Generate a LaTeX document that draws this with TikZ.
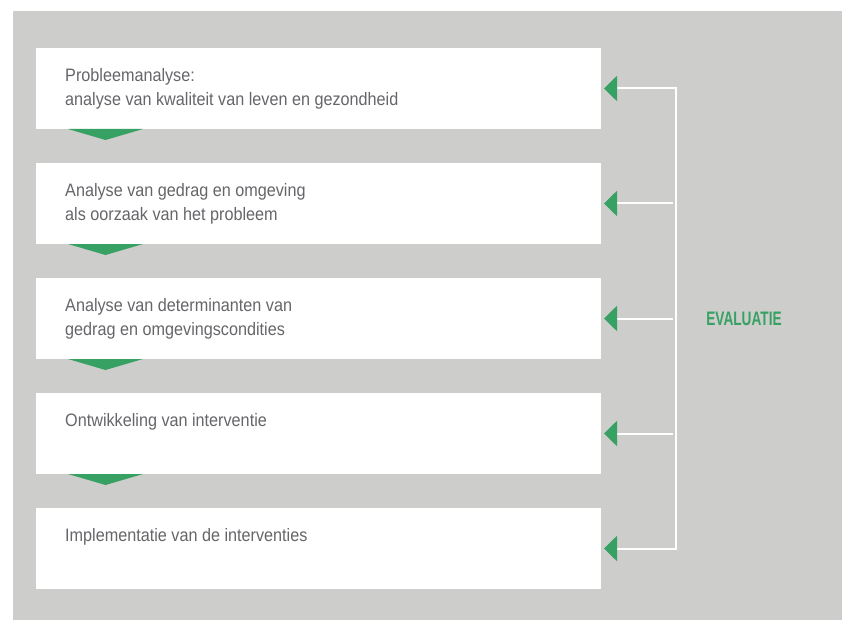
\documentclass[tikz,border=0pt]{standalone}
\usepackage{fontspec}
\setmainfont[FakeStretch=0.9]{Liberation Sans}
\newfontfamily\evalfont[FakeStretch=0.7]{Liberation Sans}
\usetikzlibrary{arrows.meta, positioning}
\definecolor{panelgray}{HTML}{CDCDCB}
\definecolor{stepgreen}{HTML}{37A063}
\definecolor{textgray}{HTML}{66666A}

\begin{document}
\begin{tikzpicture}[x=1pt, y=-1pt, >={Triangle[length=13pt, width=25pt, color=stepgreen]},
  phase/.style={fill=white, minimum width=565pt, minimum height=81pt, inner sep=0pt, outer sep=0pt},
  phasetext/.style={anchor=north west, align=left, inner sep=0pt, color=textgray,
    font=\fontsize{18}{24}\selectfont},
  feedback/.style={draw=white, line width=2pt, shorten >=3pt, shorten <=3pt}]
\useasboundingbox (0,0) rectangle (842,620);
\fill[panelgray] (13,11) rectangle (842,620);
\node[phase] (b1) at (318.5,88.5) {};
\node[phase, below=34pt of b1] (b2) {};
\node[phase, below=34pt of b2] (b3) {};
\node[phase, below=34pt of b3] (b4) {};
\node[phase, below=34pt of b4] (b5) {};
\fill[stepgreen] ([xshift=32pt]b1.south west) -- ++(75,0) -- ++(-37.5,11) -- cycle;
\fill[stepgreen] ([xshift=32pt]b2.south west) -- ++(75,0) -- ++(-37.5,11) -- cycle;
\fill[stepgreen] ([xshift=32pt]b3.south west) -- ++(75,0) -- ++(-37.5,11) -- cycle;
\fill[stepgreen] ([xshift=32pt]b4.south west) -- ++(75,0) -- ++(-37.5,11) -- cycle;
\node[phasetext] (t1) at ([shift={(29pt,-20pt)}]b1.north west)
  {Probleemanalyse:\\analyse van kwaliteit van leven en gezondheid};
\node[phasetext] (t2) at ([shift={(29pt,-20pt)}]b2.north west)
  {Analyse van gedrag en omgeving\\als oorzaak van het probleem};
\node[phasetext] (t3) at ([shift={(29pt,-20pt)}]b3.north west)
  {Analyse van determinanten van\\gedrag en omgevingscondities};
\node[phasetext] (t4) at ([shift={(29pt,-20pt)}]b4.north west) {Ontwikkeling van interventie};
\node[phasetext] (t5) at ([shift={(29pt,-20pt)}]b5.north west) {Implementatie van de interventies};
\coordinate (bus) at (676,0);
\draw[feedback, <->, line join=miter] (b1.east) -| (bus |- b3.east) |- (b5.east);
\draw[feedback, ->] (bus |- b2.east) -- (b2.east);
\draw[feedback, ->] (bus |- b3.east) -- (b3.east);
\draw[feedback, ->] (bus |- b4.east) -- (b4.east);
\node[font=\evalfont\bfseries\fontsize{19.5}{20}\selectfont, color=stepgreen] (ev) at (744,319) {EVALUATIE};
\end{tikzpicture}
\end{document}
